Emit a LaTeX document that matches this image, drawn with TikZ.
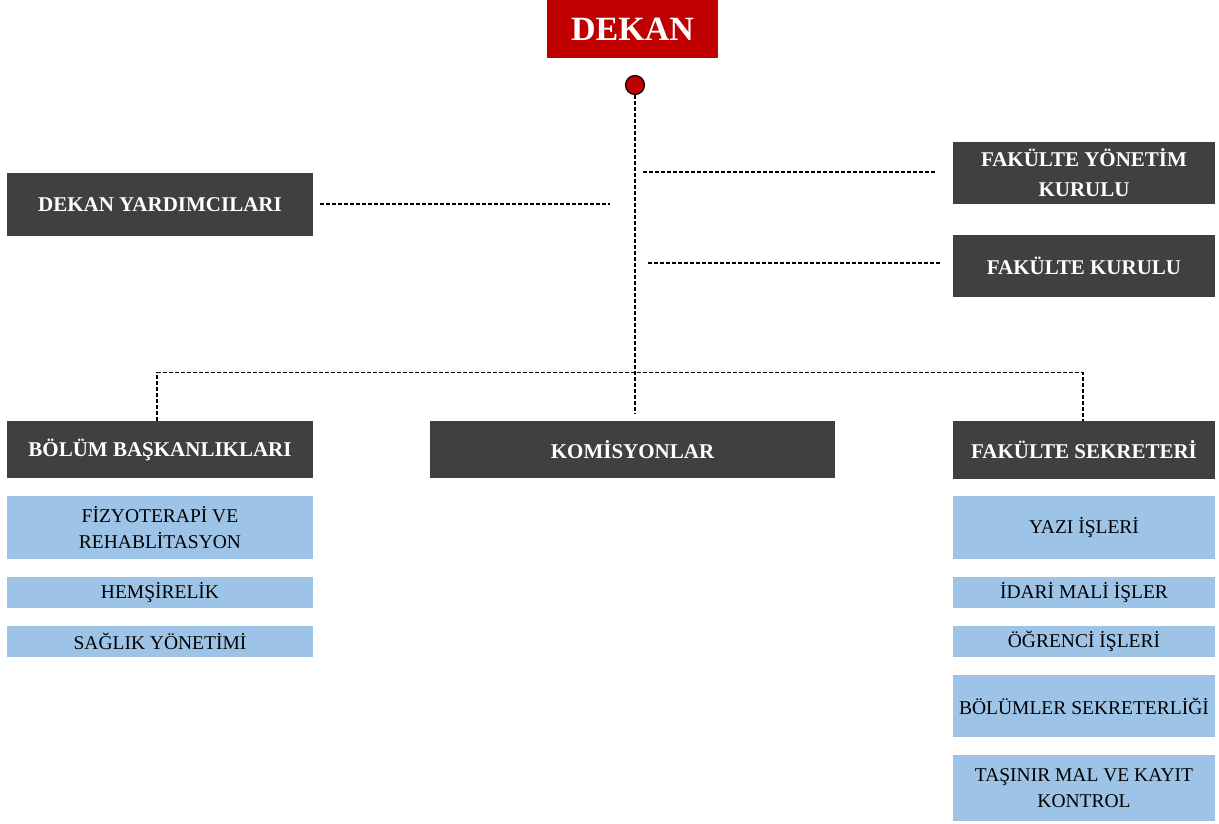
\documentclass[tikz,border=0pt]{standalone}
\usepackage{fontspec}
\setmainfont{Liberation Serif}
\definecolor{dekanred}{HTML}{C00000}
\definecolor{darkbox}{HTML}{404040}
\definecolor{lightbox}{HTML}{9DC3E6}
\begin{document}
\begin{tikzpicture}[x=1pt,y=-1pt,
  dbox/.style={fill=darkbox,draw=none,text=white,font=\fontsize{21}{30}\selectfont\bfseries,align=center,inner sep=0pt},
  lbox/.style={fill=lightbox,draw=none,text=black,font=\fontsize{19.5}{26}\selectfont,align=center,inner sep=0pt},
  conn/.style={draw=black,line width=1.1pt,dash pattern=on 4pt off 2pt}]
\useasboundingbox (0,0) rectangle (1219,823);
% top
\node[fill=dekanred,text=white,font=\fontsize{34}{40}\selectfont\bfseries,minimum width=171pt,minimum height=58pt,inner sep=0pt] (dekan) at (632.5,29) {DEKAN};
\node[circle,fill=dekanred,draw=black,line width=1.2pt,minimum size=19pt,inner sep=0pt] (dot) at (635,85) {};
% side boxes
\node[dbox,minimum width=306pt,minimum height=63pt] (dy) at (160,204.5) {DEKAN YARDIMCILARI};
\node[dbox,minimum width=262pt,minimum height=62pt] (fyk) at (1084,173) {FAKÜLTE YÖNETİM\\KURULU};
\node[dbox,minimum width=262pt,minimum height=62pt] (fk) at (1084,266) {FAKÜLTE KURULU};
% second level
\node[dbox,minimum width=306pt,minimum height=57pt] (bb) at (160,449.5) {BÖLÜM BAŞKANLIKLARI};
\node[dbox,minimum width=405pt,minimum height=57pt] (kom) at (632.5,449.5) {KOMİSYONLAR};
\node[dbox,minimum width=262pt,minimum height=58pt] (fs) at (1084,450) {FAKÜLTE SEKRETERİ};
% left list
\node[lbox,minimum width=306pt,minimum height=63pt] (l1) at (160,527.5) {FİZYOTERAPİ VE\\REHABLİTASYON};
\node[lbox,minimum width=306pt,minimum height=31pt] (l2) at (160,592.5) {HEMŞİRELİK};
\node[lbox,minimum width=306pt,minimum height=31pt] (l3) at (160,641.5) {SAĞLIK YÖNETİMİ};
% right list
\node[lbox,minimum width=262pt,minimum height=63pt] (r1) at (1084,527.5) {YAZI İŞLERİ};
\node[lbox,minimum width=262pt,minimum height=31pt] (r2) at (1084,592.5) {İDARİ MALİ İŞLER};
\node[lbox,minimum width=262pt,minimum height=31pt] (r3) at (1084,641.5) {ÖĞRENCİ İŞLERİ};
\node[lbox,minimum width=262pt,minimum height=62pt] (r4) at (1084,706) {BÖLÜMLER SEKRETERLİĞİ};
\node[lbox,minimum width=262pt,minimum height=66pt] (r5) at (1084,788) {TAŞINIR MAL VE KAYIT\\KONTROL};
% connector coordinates
\coordinate (vend) at (635,414);
\coordinate (dyend) at (610,204);
\coordinate (fykend) at (643,172);
\coordinate (fkend) at (648,263);
% connectors
\draw[conn] (dot.south) -- (vend);
\draw[conn] ([xshift=7pt]dy.east |- dyend) -- (dyend);
\draw[conn] (fykend) -- ([xshift=-18pt]fyk.west |- fykend);
\draw[conn] (fkend) -- ([xshift=-13pt]fk.west |- fkend);
\draw[conn] ([xshift=-3pt]bb.north) -- ++(0,-48) -| ([xshift=-1pt]fs.north);
\end{tikzpicture}
\end{document}
